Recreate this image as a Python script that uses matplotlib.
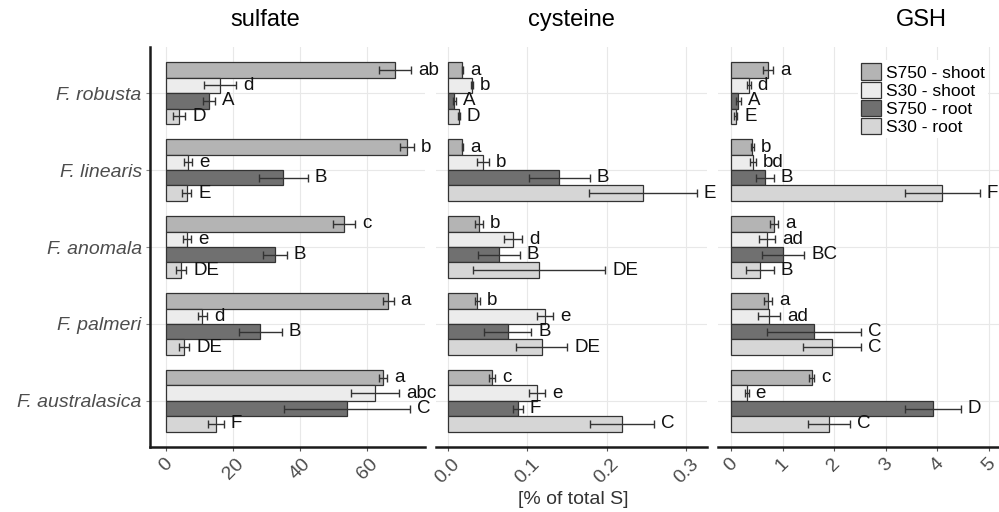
import numpy as np
import matplotlib.pyplot as plt
from matplotlib.patches import Patch

plt.rcParams['font.family'] = ['Liberation Sans', 'DejaVu Sans']

species = ['F. robusta', 'F. linearis', 'F. anomala', 'F. palmeri', 'F. australasica']
series = ['S750 - shoot', 'S30 - shoot', 'S750 - root', 'S30 - root']
colors = ['#b4b4b4', '#ececec', '#707070', '#d6d6d6']

# rows = species, columns = series
sulfate_mean = [[68.4, 16.1, 12.8, 3.9], [71.9, 6.6, 35.0, 6.2], [53.1, 6.4, 32.5, 4.6],
                [66.3, 10.8, 28.1, 5.4], [64.9, 62.4, 54.0, 14.9]]
sulfate_err = [[4.7, 4.8, 1.8, 1.8], [2.2, 1.2, 7.3, 1.4], [3.4, 1.2, 3.5, 1.5],
               [1.6, 1.4, 6.4, 1.6], [1.2, 7.1, 18.7, 2.3]]
sulfate_sig = [['ab', 'd', 'A', 'D'], ['b', 'e', 'B', 'E'], ['c', 'e', 'B', 'DE'],
               ['a', 'd', 'B', 'DE'], ['a', 'abc', 'C', 'F']]

cysteine_mean = [[0.018, 0.030, 0.008, 0.014], [0.018, 0.044, 0.140, 0.245], [0.039, 0.082, 0.064, 0.115],
                 [0.037, 0.122, 0.075, 0.118], [0.055, 0.112, 0.088, 0.219]]
cysteine_err = [[0.001, 0.001, 0.002, 0.001], [0.001, 0.007, 0.038, 0.068], [0.005, 0.011, 0.026, 0.083],
                [0.003, 0.010, 0.030, 0.032], [0.004, 0.010, 0.006, 0.040]]
cysteine_sig = [['a', 'b', 'A', 'D'], ['a', 'b', 'B', 'E'], ['b', 'd', 'B', 'DE'],
                ['b', 'e', 'B', 'DE'], ['c', 'e', 'F', 'C']]

gsh_mean = [[0.72, 0.35, 0.14, 0.09], [0.41, 0.43, 0.66, 4.10], [0.83, 0.70, 1.01, 0.56],
            [0.72, 0.74, 1.61, 1.96], [1.57, 0.31, 3.92, 1.90]]
gsh_err = [[0.10, 0.03, 0.05, 0.03], [0.03, 0.06, 0.17, 0.73], [0.08, 0.16, 0.41, 0.27],
           [0.08, 0.22, 0.92, 0.57], [0.05, 0.03, 0.54, 0.41]]
gsh_sig = [['a', 'd', 'A', 'E'], ['b', 'bd', 'B', 'F'], ['a', 'ad', 'BC', 'B'],
           ['a', 'ad', 'C', 'C'], ['c', 'e', 'D', 'C']]

panels = [
    ('sulfate', sulfate_mean, sulfate_err, sulfate_sig, [0, 20, 40, 60], ['0', '20', '40', '60'], (-4.78, 77.3)),
    ('cysteine', cysteine_mean, cysteine_err, cysteine_sig, [0, 0.1, 0.2, 0.3], ['0.0', '0.1', '0.2', '0.3'], (-0.0151, 0.3258)),
    ('GSH', gsh_mean, gsh_err, gsh_sig, [0, 1, 2, 3, 4, 5], ['0', '1', '2', '3', '4', '5'], (-0.252, 5.2)),
]

W, H = 999, 512
fig = plt.figure(figsize=(W / 100, H / 100), dpi=100)

# panel extents in pixels (left, right)
extents = [(150, 425), (436, 707), (718, 999)]
title_x = [265, 571, 921]
top, bottom = 47, 447

bar_h = 0.2
offsets = np.array([-0.3, -0.1, 0.1, 0.3])
y = np.arange(len(species))

axes = []
for k, (name, mean, err, sig, ticks, ticklabels, xlim) in enumerate(panels):
    l, r = extents[k]
    ax = fig.add_axes([l / W, 1 - bottom / H, (r - l) / W, (bottom - top) / H])
    ax.patch.set_visible(False)
    mean = np.array(mean)
    err = np.array(err)
    for j in range(len(series)):
        ax.barh(y + offsets[j], mean[:, j], height=bar_h, color=colors[j],
                edgecolor='#333333', linewidth=0.9, zorder=2)
        ax.errorbar(mean[:, j], y + offsets[j], xerr=err[:, j], fmt='none',
                    ecolor='#333333', elinewidth=1.0, capsize=2.6, capthick=1.0, zorder=3)
        for i in range(len(species)):
            ax.annotate(sig[i][j], (mean[i, j] + err[i, j], y[i] + offsets[j]),
                        xytext=(5, 0), textcoords='offset points', ha='left', va='center',
                        fontsize=13.5, color='#111111', zorder=10, annotation_clip=False)
    ax.set_xlim(*xlim)
    ax.set_ylim(4.6, -0.6)
    ax.set_xticks(ticks)
    ax.set_xticklabels(ticklabels, rotation=45, ha='center', va='top',
                       fontsize=14, color='#4d4d4d')
    ax.set_yticks(y)
    ax.grid(color='#e8e8e8', linewidth=0.8)
    ax.set_axisbelow(True)
    ax.tick_params(axis='x', length=3, color='#555555', pad=3)
    for s in ['top', 'right']:
        ax.spines[s].set_visible(False)
    ax.spines['bottom'].set_linewidth(1.8)
    ax.spines['bottom'].set_color('#1a1a1a')
    if k == 0:
        ax.set_yticklabels(species, fontsize=14, style='italic', color='#4d4d4d')
        ax.tick_params(axis='y', length=3, color='#888888', pad=3)
        ax.spines['left'].set_linewidth(1.8)
        ax.spines['left'].set_color('#1a1a1a')
    else:
        ax.set_yticklabels([])
        ax.tick_params(axis='y', length=0)
        ax.spines['left'].set_visible(False)
    fig.text(title_x[k] / W, 1 - 20 / H, name, ha='center', va='center', fontsize=17)
    axes.append(ax)

fig.text(573 / W, 1 - 500 / H, '[% of total S]', ha='center', va='center', fontsize=14, color='#333333')

handles = [Patch(facecolor=c, edgecolor='#333333', linewidth=0.9) for c in colors]
leg = axes[2].legend(handles, series, loc='upper left', bbox_to_anchor=(858 / W, 1 - 60 / H),
                     bbox_transform=fig.transFigure,
                     fontsize=12.5, frameon=True, facecolor='white', edgecolor='none', framealpha=1,
                     handlelength=1.1, handleheight=1.1, handletextpad=0.3, labelspacing=0.05,
                     borderpad=0.2, borderaxespad=0)
leg.set_zorder(20)

fig.savefig('out.png', dpi=100, facecolor='white')
